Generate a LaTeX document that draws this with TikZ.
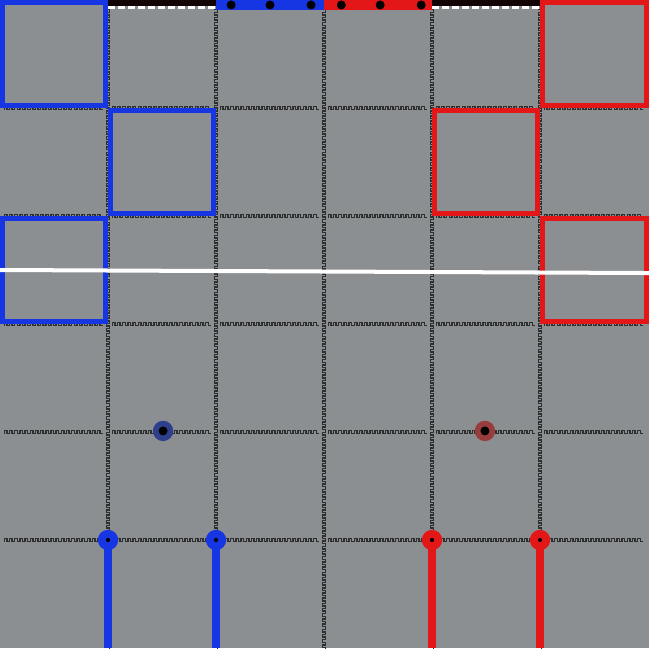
\documentclass[tikz,border=0pt]{standalone}
\usepackage{tikz}

\definecolor{boardgray}{HTML}{8C8F92}
\definecolor{teamblue}{HTML}{1636E4}
\definecolor{teamred}{HTML}{E41718}
\definecolor{ringblue}{HTML}{2E3F8C}
\definecolor{ringred}{HTML}{983C3E}
\definecolor{keyline}{HTML}{2E3030}
\definecolor{stripdark}{HTML}{120404}

\begin{document}
\begin{tikzpicture}[x=1.8cm, y=1.8cm,
  key/.style={draw=keyline, line width=0.7pt},
  zone/.style={line width=2.4pt},
  lane/.style={line width=3.8pt},
  post/.style={circle, inner sep=0pt, minimum size=0.34cm},
  pin/.style={circle, fill=black, inner sep=0pt, minimum size=0.07cm},
  marker/.style={circle, inner sep=0pt, minimum size=0.34cm, fill=#1},
  stud/.style={circle, fill=black, inner sep=0pt, minimum size=0.15cm}
]
% board
\fill[boardgray] (0,0) rectangle (6.009,6);
\useasboundingbox (0,0) rectangle (6.009,6);
\begin{scope}
\clip (0,0) rectangle (6.009,6);

% greek key grid, vertical lines
\foreach \i in {1,...,5} {
  \draw[key] (\i-0.015,5.91) \foreach \k in {1,...,125} { -- ++(0.03,0) -- ++(0,-0.024) -- ++(-0.03,0) -- ++(0,-0.024) };
}
% greek key grid, horizontal lines (broken at crossings)
\foreach \j in {1,...,5} {
  \foreach \i in {0,...,5} {
    \draw[key] (\i+0.04,\j-0.015) \foreach \k in {1,...,19} { -- ++(0,0.03) -- ++(0.024,0) -- ++(0,-0.03) -- ++(0.024,0) };
  }
}
\end{scope}

% top strip
\fill[stripdark] (1,5.944) rectangle (2,6);
\fill[stripdark] (4,5.944) rectangle (5,6);
\draw[white, line width=1.4pt, dash pattern=on 0.117cm off 0.05cm] (1,5.93) -- (2,5.93);
\draw[white, line width=1.4pt, dash pattern=on 0.117cm off 0.05cm] (4,5.93) -- (5,5.93);
\fill[teamblue] (2,5.907) rectangle (3,6);
\fill[teamred] (3,5.907) rectangle (4,6);
\foreach \x [count=\n] in {2.14,2.5,2.88,3.16,3.52,3.9}
  \node[stud] (stud\n) at (\x,5.954) {};

% zones
\draw[zone, teamblue] (0.023,5.023) rectangle (0.977,5.977);
\draw[zone, teamblue] (1.023,4.023) rectangle (1.977,4.977);
\draw[zone, teamblue] (0.023,3.023) rectangle (0.977,3.977);
\draw[zone, teamred] (5.023,5.023) rectangle (5.986,5.977);
\draw[zone, teamred] (4.023,4.023) rectangle (4.977,4.977);
\draw[zone, teamred] (5.023,3.023) rectangle (5.986,3.977);

% white line
\coordinate (wleft) at (0,3.5);
\coordinate (wright) at (6.009,3.472);
\draw[white, line width=1.9pt] (wleft) -- (wright);

% markers
\node[marker=ringblue] (bmark) at (1.51,2.01) {};
\node[stud] at (bmark) {};
\node[marker=ringred] (rmark) at (4.49,2.01) {};
\node[stud] at (rmark) {};

% lanes
\foreach \x/\c/\n in {1/teamblue/b1, 2/teamblue/b2, 4/teamred/r1, 5/teamred/r2} {
  \coordinate (\n top) at (\x,1);
  \coordinate (\n bot) at (\x,0);
  \draw[lane, \c] (\n top) -- (\n bot);
  \node[post, fill=\c] (\n post) at (\n top) {};
  \node[pin] at (\n post) {};
}
\end{tikzpicture}
\end{document}
